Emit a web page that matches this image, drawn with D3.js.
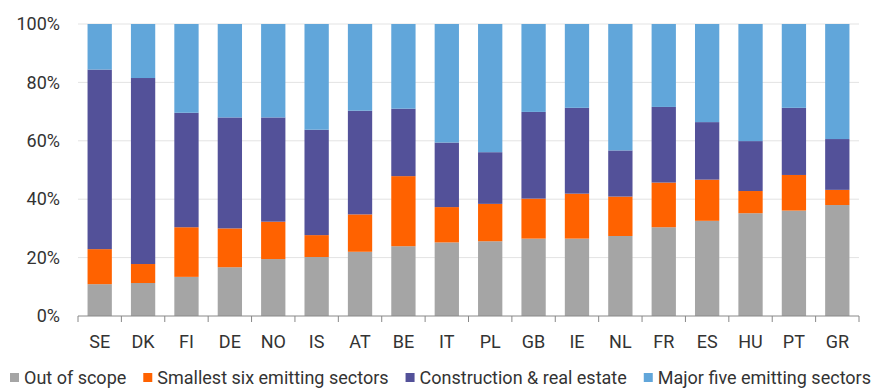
<!DOCTYPE html>
<html>
<head>
<meta charset="utf-8">
<script src="https://cdn.jsdelivr.net/npm/d3@7"></script>
<style>
  body { margin: 0; background: #fff; }
  text { font-family: "Roboto", "Liberation Sans", sans-serif; fill: #333; }
</style>
</head>
<body>
<div id="chart"></div>
<script>
// data (shares in %)
let countries = ['SE', 'DK', 'FI', 'DE', 'NO', 'IS', 'AT', 'BE', 'IT', 'PL', 'GB', 'IE', 'NL', 'FR', 'ES', 'HU', 'PT', 'GR'];
let outOfScope = [10.9, 11.3, 13.4, 16.7, 19.5, 20.2, 22.0, 23.9, 25.2, 25.6, 26.5, 26.5, 27.4, 30.4, 32.6, 35.2, 36.1, 38.0];
let smallestSix = [12.0, 6.5, 17.0, 13.3, 12.8, 7.5, 12.8, 24.0, 12.1, 12.8, 13.7, 15.4, 13.5, 15.3, 14.1, 7.6, 12.2, 5.2];
let construction = [61.5, 63.7, 39.2, 38.0, 35.7, 36.1, 35.5, 23.1, 22.1, 17.7, 29.7, 29.4, 15.8, 25.9, 19.7, 17.1, 23.0, 17.4];
let majorFive = [15.6, 18.5, 30.4, 32.0, 32.0, 36.2, 29.7, 29.0, 40.6, 43.9, 30.1, 28.7, 43.3, 28.4, 33.6, 40.1, 28.7, 39.4];
let yTicks = [0, 20, 40, 60, 80, 100];

let seriesNames = ['Out of scope', 'Smallest six emitting sectors', 'Construction & real estate', 'Major five emitting sectors'];
let seriesColors = ['#a5a5a5', '#ff6200', '#535199', '#61a6da'];

// svg size
let svgWidth = 884;
let svgHeight = 388;

let margin = { top: 24, right: 25, bottom: 72, left: 78 };
let width = svgWidth - margin.left - margin.right;
let height = svgHeight - margin.top - margin.bottom;

let svg = d3.select('#chart').append('svg')
  .attr('width', svgWidth)
  .attr('height', svgHeight);

let chartGroup = svg.append('g')
  .attr('transform', `translate(${margin.left}, ${margin.top})`);

// build table for the stack
let keys = ['outOfScope', 'smallestSix', 'construction', 'majorFive'];
let table = countries.map((c, i) => ({
  country: c,
  outOfScope: outOfScope[i],
  smallestSix: smallestSix[i],
  construction: construction[i],
  majorFive: majorFive[i]
}));

let stacked = d3.stack().keys(keys)(table);

let xScale = d3.scaleBand()
  .domain(countries)
  .range([0, width])
  .paddingInner(0.44)
  .paddingOuter(0.22);

let yScale = d3.scaleLinear()
  .domain([0, 100])
  .range([height, 0]);

// gridlines
chartGroup.append('g')
  .selectAll('line')
  .data(yTicks.filter(t => t > 0))
  .enter()
  .append('line')
  .attr('x1', 0)
  .attr('x2', width)
  .attr('y1', d => yScale(d))
  .attr('y2', d => yScale(d))
  .attr('stroke', '#e3e3e3')
  .attr('stroke-width', 1);

// bars
chartGroup.append('g')
  .selectAll('g')
  .data(stacked)
  .enter()
  .append('g')
  .attr('fill', (d, i) => seriesColors[i])
  .selectAll('rect')
  .data(d => d)
  .enter()
  .append('rect')
  .attr('x', d => xScale(d.data.country))
  .attr('width', xScale.bandwidth())
  .attr('y', d => yScale(d[1]))
  .attr('height', d => yScale(d[0]) - yScale(d[1]));

// y axis labels
let leftAxis = d3.axisLeft(yScale)
  .tickValues(yTicks)
  .tickSize(0)
  .tickPadding(18)
  .tickFormat(d => d + '%');

let yAxis = chartGroup.append('g')
  .call(leftAxis);
yAxis.select('.domain').remove();
yAxis.selectAll('text')
  .style('font-size', '18px')
  .style('font-family', 'Roboto, sans-serif')
  .attr('fill', '#333');

// x axis line and ticks between categories
let xAxis = chartGroup.append('g')
  .attr('transform', `translate(0, ${height})`);

xAxis.append('line')
  .attr('x1', 0)
  .attr('x2', width)
  .attr('stroke', '#888')
  .attr('stroke-width', 1);

let boundaries = d3.range(countries.length + 1).map(i => i * width / countries.length);
xAxis.selectAll('.tk')
  .data(boundaries)
  .enter()
  .append('line')
  .attr('x1', d => d)
  .attr('x2', d => d)
  .attr('y1', 0)
  .attr('y2', 6)
  .attr('stroke', '#888');

xAxis.selectAll('.lbl')
  .data(countries)
  .enter()
  .append('text')
  .attr('x', d => xScale(d) + xScale.bandwidth() / 2)
  .attr('y', 32)
  .attr('text-anchor', 'middle')
  .style('font-size', '18px')
  .text(d => d);

// legend
let legend = svg.append('g')
  .attr('transform', `translate(10, 384)`);

let lx = 0;
seriesNames.forEach((name, i) => {
  legend.append('rect')
    .attr('x', lx)
    .attr('y', -11)
    .attr('width', 9)
    .attr('height', 9)
    .attr('fill', seriesColors[i]);
  let t = legend.append('text')
    .attr('x', lx + 14)
    .attr('y', 0)
    .style('font-size', '18px')
    .text(name);
  lx += 14 + t.node().getComputedTextLength() + 17;
});
</script>
</body>
</html>
